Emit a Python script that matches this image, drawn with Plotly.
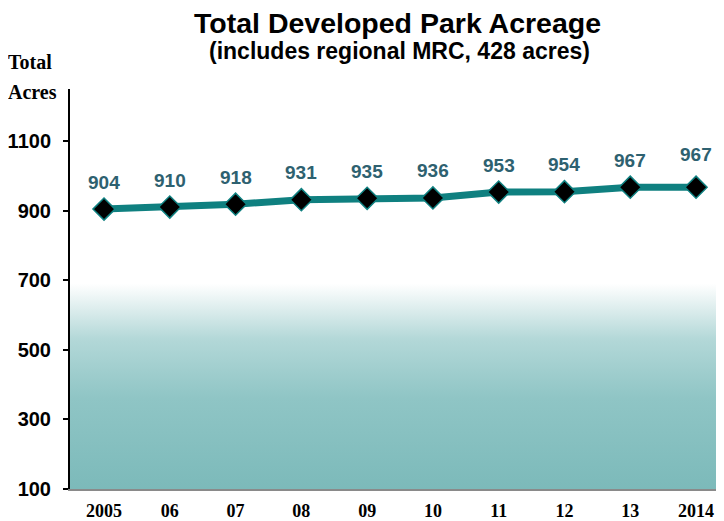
import plotly.graph_objects as go

years = ["2005", "06", "07", "08", "09", "10", "11", "12", "13", "2014"]
acres = [904, 910, 918, 931, 935, 936, 953, 954, 967, 967]
y_ticks = [100, 300, 500, 700, 900, 1100]

TEAL = "#0f8080"
LABEL = "#2e6170"

xs = list(range(len(years)))

# page body has an 8px margin: shrink figure so the plot lands where intended
OFF = 8
PL, PR, PT, PB = 70, 724, 89, 489  # plot area in screen pixels

fig = go.Figure()

# gradient background band
fig.add_trace(go.Scatter(
    x=[-0.6, 9.6, 9.6, -0.6, -0.6],
    y=[100, 100, 690, 690, 100],
    mode="lines", line=dict(width=0), fill="toself",
    fillgradient=dict(type="vertical", start=100, stop=690,
                      colorscale=[[0, "#7cbaba"], [0.44, "#8fc5c5"],
                                  [0.73, "#b3d8d8"], [0.87, "#dbecec"],
                                  [1, "#ffffff"]]),
    hoverinfo="skip", showlegend=False,
))

fig.add_trace(go.Scatter(
    x=xs, y=acres, mode="lines+markers",
    line=dict(color=TEAL, width=7),
    marker=dict(symbol="diamond", size=17, color="black",
                line=dict(color=TEAL, width=1.5)),
    showlegend=False,
))

for i, v in enumerate(acres):
    fig.add_annotation(
        x=xs[i], y=v, xref="x", yref="y", text=f"<b>{v}</b>", showarrow=False,
        yshift=27 + (6 if i == len(acres) - 1 else 0),
        font=dict(family="Liberation Sans, Arial", size=19, color=LABEL),
    )

fig.update_layout(
    width=724 - OFF, height=521 - OFF,
    margin=dict(l=PL - OFF, r=0, t=PT - OFF, b=521 - PB),
    paper_bgcolor="white", plot_bgcolor="white",
    xaxis=dict(range=[-0.517, 9.425], tickvals=xs, ticktext=[f"<b>{y}</b>" for y in years],
               showgrid=False, zeroline=False, showline=True, linecolor="#8a8a8a",
               linewidth=2, ticks="", ticklabelstandoff=4,
               tickfont=dict(family="Liberation Serif, serif", size=18, color="black")),
    yaxis=dict(range=[100, 1249], tickvals=y_ticks, ticktext=[f"<b>{t}</b>" for t in y_ticks],
               showgrid=False, zeroline=False, showline=True, linecolor="black",
               linewidth=2, ticks="outside", ticklen=5, tickcolor="black", tickwidth=1.5,
               ticklabelstandoff=8,
               tickfont=dict(family="Liberation Sans, Arial", size=20, color="black")),
    font=dict(family="Liberation Sans, Arial"),
)

W = PR - PL
H = PB - PT
def px(xp): return (xp - PL) / W
def py(yp): return (PB - yp) / H

fig.add_annotation(x=px(398), y=py(23), xref="paper", yref="paper",
                   text="<b>Total Developed Park Acreage</b>", showarrow=False,
                   xanchor="center", yanchor="middle",
                   font=dict(family="Liberation Sans, Arial", size=28.5, color="black"))
fig.add_annotation(x=px(399), y=py(51), xref="paper", yref="paper",
                   text="<b>(includes regional MRC, 428 acres)</b>", showarrow=False,
                   xanchor="center", yanchor="middle",
                   font=dict(family="Liberation Sans, Arial", size=23, color="black"))
fig.add_annotation(x=px(6), y=py(62), xref="paper", yref="paper",
                   text="<b>Total</b>", showarrow=False, xanchor="left", yanchor="middle",
                   font=dict(family="Liberation Serif, serif", size=20, color="black"))
fig.add_annotation(x=px(6), y=py(92), xref="paper", yref="paper",
                   text="<b>Acres</b>", showarrow=False, xanchor="left", yanchor="middle",
                   font=dict(family="Liberation Serif, serif", size=20, color="black"))

fig.write_html("out.html")
